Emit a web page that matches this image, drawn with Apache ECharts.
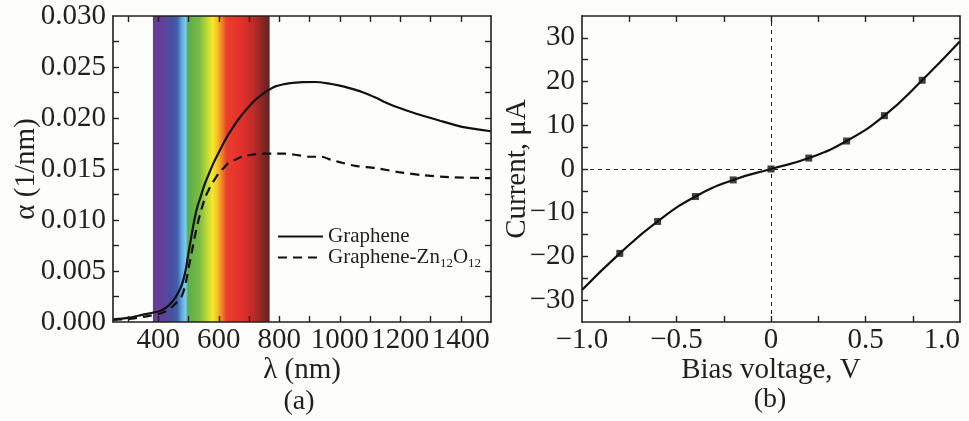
<!DOCTYPE html>
<html>
<head>
<meta charset="utf-8">
<script src="https://cdn.jsdelivr.net/npm/echarts@6/dist/echarts.min.js"></script>
<style>
  html, body { margin: 0; padding: 0; background: #fdfdfb; }
  #chart { width: 969px; height: 421px; }
</style>
</head>
<body>
<div id="chart"></div>
<script>
// (a) absorption spectra
const wlGraphene = [250, 300, 347, 402, 425, 440, 454, 466, 477, 485, 491, 496, 501, 507, 514, 521, 530, 540, 553, 568,
  584, 601, 622, 645, 668, 690, 714, 738, 762, 787, 810, 831, 875, 919, 960, 996, 1035, 1073, 1118, 1161, 1205,
  1250, 1326, 1404, 1500]
const alphaGraphene = [0.00025, 0.0004, 0.0007, 0.00105, 0.0014, 0.0018, 0.0023, 0.0029, 0.0036, 0.0044,
  0.0052, 0.0061, 0.007, 0.008, 0.0092, 0.0103, 0.0114, 0.0123, 0.0135, 0.0146,
  0.0157, 0.0167, 0.0179, 0.019, 0.02, 0.0208, 0.0216, 0.0222, 0.0227, 0.0231,
  0.02328, 0.0234, 0.02352, 0.02353, 0.0234, 0.0232, 0.0229, 0.02255, 0.022, 0.0214, 0.0209,
  0.02044, 0.01978, 0.01913, 0.0187]
const wlZn = [250, 300, 350, 402, 430, 446, 460, 473, 481, 488, 495, 501, 507, 512, 518, 525, 532, 539, 547, 556,
  567, 578, 589, 600, 616, 632, 654, 676, 709, 742, 780, 819, 852, 897, 941, 970, 996, 1051, 1117, 1194,
  1271, 1359, 1500]
const alphaZn = [0.0002, 0.0003, 0.0005, 0.0008, 0.0011, 0.0015, 0.0019, 0.0023, 0.0028, 0.0035,
  0.0045, 0.0055, 0.0063, 0.0071, 0.008, 0.009, 0.0099, 0.0107, 0.0115, 0.0123,
  0.013, 0.0136, 0.0141, 0.0146, 0.0151, 0.0156, 0.0159, 0.0162, 0.0164, 0.0165,
  0.0165, 0.0165, 0.0164, 0.0162, 0.0162, 0.0159, 0.0157, 0.0153, 0.0151, 0.0147,
  0.0144, 0.0142, 0.0141]
const visibleBand = [382, 768]
const wlLabels = [400, 600, 800, 1000, 1200, 1400]
const wlTicks = [300, 400, 500, 600, 700, 800, 900, 1000, 1100, 1200, 1300, 1400]
const alphaLabels = [0, 0.005, 0.01, 0.015, 0.02, 0.025, 0.03]
const alphaTicks = [0.0025, 0.005, 0.0075, 0.01, 0.0125, 0.015, 0.0175, 0.02, 0.0225, 0.025, 0.0275]

// (b) I-V curve
const voltage = [-1.0, -0.8, -0.6, -0.4, -0.2, 0, 0.2, 0.4, 0.6, 0.8, 1.0]
const current = [-27.7, -19.3, -12.0, -6.3, -2.5, 0, 2.5, 6.4, 12.2, 20.3, 29.2]
const markerVoltage = [-0.8, -0.6, -0.4, -0.2, 0, 0.2, 0.4, 0.6, 0.8]
const markerCurrent = [-19.3, -12.0, -6.3, -2.5, 0, 2.5, 6.4, 12.2, 20.3]
const vLabels = [-1.0, -0.5, 0, 0.5, 1.0]
const vTicks = [-0.75, -0.5, -0.25, 0, 0.25, 0.5, 0.75]
const iLabels = [-30, -20, -10, 0, 10, 20, 30]
const iTicks = [-30, -25, -20, -15, -10, -5, 0, 5, 10, 15, 20, 25, 30]

const FONT = 'Liberation Serif'
const INK = '#231f20'
const TICK_FS = 29

const fmtSigned = (v, digits) => {
  if (v === 0) return '0'
  const s = Math.abs(v).toFixed(digits)
  return v < 0 ? '\u2212' + s : s
}

const axisBase = (extra) => Object.assign({
  type: 'value',
  z: 5,
  splitLine: { show: false },
  axisLine: { onZero: false, lineStyle: { color: INK, width: 1.6 } },
  nameTextStyle: { color: INK, fontFamily: FONT, fontSize: 29 },
  nameMoveOverlap: false
}, extra)

const ticks = (vals) => ({ inside: true, length: 6, customValues: vals, lineStyle: { color: INK, width: 1.4 } })
const labels = (vals, margin, formatter, more) => Object.assign({
  color: INK, fontFamily: FONT, fontSize: TICK_FS, margin: margin,
  customValues: vals, hideOverlap: false, formatter: formatter
}, more || {})

const chart = echarts.init(document.getElementById('chart'))

const spectrum = new echarts.graphic.LinearGradient(0, 0, 1, 0, [
  { offset: 0.0, color: '#6a3b96' },
  { offset: 0.09, color: '#5f419b' },
  { offset: 0.16, color: '#46519f' },
  { offset: 0.21, color: '#4060ab' },
  { offset: 0.245, color: '#5aa6dc' },
  { offset: 0.28, color: '#7ccbee' },
  { offset: 0.30, color: '#58ad4b' },
  { offset: 0.40, color: '#7cbc40' },
  { offset: 0.46, color: '#bcd635' },
  { offset: 0.51, color: '#f4e82a' },
  { offset: 0.55, color: '#f8c12b' },
  { offset: 0.59, color: '#f3842b' },
  { offset: 0.63, color: '#ea3e2d' },
  { offset: 0.76, color: '#e2302b' },
  { offset: 0.86, color: '#bf2b29' },
  { offset: 0.94, color: '#862725' },
  { offset: 1.0, color: '#5c2420' }
])

const option = {
  animation: false,
  backgroundColor: '#fdfdfb',
  textStyle: { fontFamily: FONT, color: INK },
  grid: [
    { left: 113, top: 16, width: 378, height: 306, outerBoundsMode: 'none', containLabel: false },
    { left: 582, top: 16, width: 378, height: 306, outerBoundsMode: 'none', containLabel: false }
  ],
  xAxis: [
    axisBase({
      gridIndex: 0, position: 'bottom', min: 250, max: 1500,
      name: '\u03bb (nm)', nameLocation: 'middle', nameGap: 34,
      axisTick: ticks(wlTicks),
      axisLabel: labels(wlLabels, 4, v => String(v))
    }),
    axisBase({
      gridIndex: 0, position: 'top', min: 250, max: 1500,
      axisTick: ticks(wlTicks), axisLabel: { show: false }
    }),
    axisBase({
      gridIndex: 1, position: 'bottom', min: -1, max: 1,
      name: 'Bias voltage, V', nameLocation: 'middle', nameGap: 34,
      axisTick: ticks(vTicks),
      axisLabel: labels(vLabels, 4, v => fmtSigned(v, v === 0 ? 0 : 1), { alignMaxLabel: 'right' })
    }),
    axisBase({
      gridIndex: 1, position: 'top', min: -1, max: 1,
      axisTick: ticks(vTicks), axisLabel: { show: false }
    })
  ],
  yAxis: [
    axisBase({
      gridIndex: 0, position: 'left', min: 0, max: 0.03,
      name: '\u03b1 (1/nm)', nameLocation: 'middle', nameGap: 72,
      axisTick: ticks(alphaTicks),
      axisLabel: labels(alphaLabels, 7, v => v.toFixed(3))
    }),
    axisBase({
      gridIndex: 0, position: 'right', min: 0, max: 0.03,
      axisTick: ticks(alphaTicks), axisLabel: { show: false }
    }),
    axisBase({
      gridIndex: 1, position: 'left', min: -35, max: 35,
      name: 'Current, \u03bcA', nameLocation: 'middle', nameGap: 50,
      axisTick: ticks(iTicks),
      axisLabel: labels(iLabels, 7, v => fmtSigned(v, 0))
    }),
    axisBase({
      gridIndex: 1, position: 'right', min: -35, max: 35,
      axisTick: ticks(iTicks), axisLabel: { show: false }
    })
  ],
  legend: {
    data: ['Graphene', 'Graphene-Zn12O12'],
    orient: 'vertical',
    left: 277,
    top: 226,
    padding: 0,
    itemWidth: 45,
    itemHeight: 12,
    itemGap: 0,
    itemStyle: { color: 'transparent', borderWidth: 0, opacity: 0 },
    textStyle: {
      color: INK,
      fontFamily: FONT,
      fontSize: 21,
      rich: {
        n: { fontFamily: FONT, fontSize: 21, color: INK },
        s: { fontFamily: FONT, fontSize: 13, color: INK, padding: [13, 0, 0, 0] }
      }
    },
    formatter: name => name === 'Graphene' ? '{n|Graphene}' : '{n|Graphene-Zn}{s|12}{n|O}{s|12}'
  },
  graphic: [
    { type: 'text', x: 299, y: 402, style: { text: '(a)', fill: INK, fontFamily: FONT, fontSize: 28, align: 'center', verticalAlign: 'middle' } },
    { type: 'text', x: 770, y: 400, style: { text: '(b)', fill: INK, fontFamily: FONT, fontSize: 28, align: 'center', verticalAlign: 'middle' } }
  ],
  series: [
    {
      name: 'Graphene',
      type: 'line',
      xAxisIndex: 0,
      yAxisIndex: 0,
      smooth: 0.25,
      showSymbol: false,
      symbol: 'none',
      lineStyle: { color: '#111', width: 2.2, type: 'solid' },
      itemStyle: { color: '#111' },
      data: wlGraphene.map((w, i) => [w, alphaGraphene[i]]),
      markArea: {
        silent: true,
        itemStyle: { color: spectrum, opacity: 1 },
        data: [[{ xAxis: visibleBand[0] }, { xAxis: visibleBand[1] }]]
      },
      z: 3
    },
    {
      name: 'Graphene-Zn12O12',
      type: 'line',
      xAxisIndex: 0,
      yAxisIndex: 0,
      smooth: 0.2,
      showSymbol: false,
      symbol: 'none',
      lineStyle: { color: '#111', width: 2.2, type: [9, 6] },
      itemStyle: { color: '#111' },
      data: wlZn.map((w, i) => [w, alphaZn[i]]),
      z: 3
    },
    {
      name: 'IV',
      type: 'line',
      xAxisIndex: 2,
      yAxisIndex: 2,
      smooth: 0.5,
      showSymbol: false,
      symbol: 'none',
      lineStyle: { color: '#111', width: 2.2 },
      data: voltage.map((v, i) => [v, current[i]]),
      markLine: {
        silent: true,
        symbol: 'none',
        label: { show: false },
        lineStyle: { color: INK, width: 1, type: [4, 4] },
        data: [{ xAxis: 0 }, { yAxis: 0 }]
      },
      z: 3
    },
    {
      name: 'IV points',
      type: 'scatter',
      xAxisIndex: 2,
      yAxisIndex: 2,
      symbol: 'rect',
      symbolSize: 7,
      itemStyle: { color: '#111' },
      data: markerVoltage.map((v, i) => [v, markerCurrent[i]]),
      z: 4
    }
  ]
}

chart.setOption(option)
</script>
</body>
</html>
